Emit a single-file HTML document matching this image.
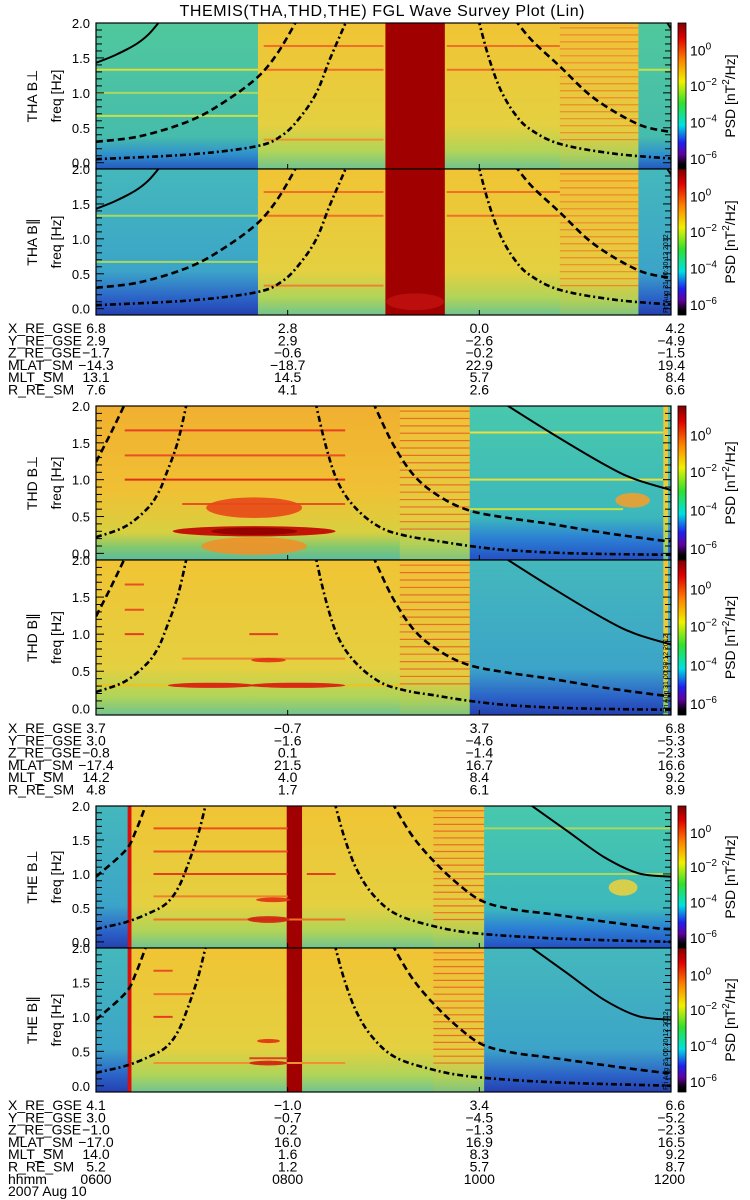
<!DOCTYPE html>
<html><head><meta charset="utf-8">
<style>
html,body{margin:0;padding:0;background:#fff;}
svg{display:block;font-family:"Liberation Sans",sans-serif;}
</style></head>
<body>
<svg id="chart" width="750" height="1200" viewBox="0 0 750 1200" xmlns="http://www.w3.org/2000/svg">
<defs>
<linearGradient id="gG" x1="0" y1="0" x2="0" y2="1"><stop offset="0" stop-color="#50c89c"/><stop offset="0.78" stop-color="#46bcac"/><stop offset="0.9" stop-color="#3090cc"/><stop offset="1" stop-color="#2458c0"/></linearGradient>
<linearGradient id="gB" x1="0" y1="0" x2="0" y2="1"><stop offset="0" stop-color="#44b8bc"/><stop offset="0.7" stop-color="#3ca4c8"/><stop offset="0.88" stop-color="#2c64c8"/><stop offset="1" stop-color="#2440b0"/></linearGradient>
<linearGradient id="gG2" x1="0" y1="0" x2="0" y2="1"><stop offset="0" stop-color="#48c8ac"/><stop offset="0.72" stop-color="#3cb8bc"/><stop offset="0.86" stop-color="#2c80d4"/><stop offset="1" stop-color="#2450c4"/></linearGradient>
<linearGradient id="gY" x1="0" y1="0" x2="0" y2="1"><stop offset="0" stop-color="#f0c434"/><stop offset="0.7" stop-color="#e4d040"/><stop offset="0.88" stop-color="#b0d458"/><stop offset="1" stop-color="#70c490"/></linearGradient>
<linearGradient id="gO" x1="0" y1="0" x2="0" y2="1"><stop offset="0" stop-color="#f0b030"/><stop offset="0.55" stop-color="#f0c034"/><stop offset="0.82" stop-color="#d8d040"/><stop offset="0.92" stop-color="#80c870"/><stop offset="1" stop-color="#5cbca0"/></linearGradient>
<linearGradient id="gS" x1="0" y1="0" x2="0" y2="1"><stop offset="0" stop-color="#f0c038"/><stop offset="0.75" stop-color="#e4cc40"/><stop offset="0.9" stop-color="#b0d058"/><stop offset="1" stop-color="#80c480"/></linearGradient>
<linearGradient id="gCB" x1="0" y1="0" x2="0" y2="1"><stop offset="0" stop-color="#800000"/><stop offset="0.1" stop-color="#e00000"/><stop offset="0.25" stop-color="#ff8000"/><stop offset="0.4" stop-color="#f0f000"/><stop offset="0.55" stop-color="#30e030"/><stop offset="0.7" stop-color="#00e0e0"/><stop offset="0.82" stop-color="#2020f0"/><stop offset="0.9" stop-color="#6000a0"/><stop offset="0.97" stop-color="#000000"/><stop offset="1" stop-color="#000"/></linearGradient>
</defs>
<text x="382" y="16" font-size="16" text-anchor="middle" textLength="405">THEMIS(THA,THD,THE) FGL Wave Survey Plot (Lin)</text>
<g id="root"></g>
</svg>
<script>
// ---- data ----
const hourTicks = [6, 8, 10, 12];
const freqTicks = [0.0, 0.5, 1.0, 1.5, 2.0];
const cbTicks = ['0', '-2', '-4', '-6'];
const cbFracs = [0.19, 0.43, 0.68, 0.93];

const thaPerpRegions = [[6,7.69,'G'],[7.69,9.02,'Y'],[9.02,9.64,'R'],[9.64,10.84,'Y'],[10.84,11.66,'S'],[11.66,12,'G']];
const thaParRegions  = [[6,7.69,'B'],[7.69,9.02,'Y'],[9.02,9.64,'R'],[9.64,10.84,'Y'],[10.84,11.66,'S'],[11.66,12,'B']];
const thdPerpRegions = [[6,9.17,'O'],[9.17,9.9,'S'],[9.9,11.92,'G2'],[11.92,11.97,'Y'],[11.97,12,'G2']];
const thdParRegions  = [[6,9.17,'Y'],[9.17,9.9,'S'],[9.9,11.92,'B'],[11.92,11.97,'Y'],[11.97,12,'B']];
const thePerpRegions = [[6,6.33,'B'],[6.33,6.37,'L'],[6.37,7.99,'Y'],[7.99,8.15,'R'],[8.15,9.52,'Y'],[9.52,10.05,'S'],[10.05,12,'G2']];
const theParRegions  = [[6,6.33,'B'],[6.33,6.37,'L'],[6.37,7.99,'Y'],[7.99,8.15,'R'],[8.15,9.52,'Y'],[9.52,10.05,'S'],[10.05,12,'B']];

const thaPerpLines = [[6,7.69,1.33,'#d8e040'],[6,7.69,0.67,'#c8e048'],[6,7.69,1.0,'#a8d860'],[7.75,9.0,1.67,'#f07028'],[7.75,9.0,1.33,'#f07028'],[9.66,10.84,1.67,'#f07028'],[9.66,10.84,1.33,'#f07028'],[7.75,9.0,0.33,'#f09030'],[11.66,12,1.33,'#c8e048']];
const thaParLines  = [[6,7.69,1.33,'#a8d860'],[6,7.69,0.67,'#a8d860'],[7.75,9.0,1.67,'#f07028'],[7.75,9.0,1.33,'#f07028'],[9.66,10.84,1.67,'#f07028'],[9.66,10.84,1.33,'#f07028'],[7.75,9.0,0.33,'#f08030']];
const thdPerpLines = [[6.3,8.6,1.67,'#e84020'],[6.3,8.6,1.33,'#e85020'],[6.3,8.6,1.0,'#e03018'],[6.9,8.6,0.67,'#e85020'],[9.9,11.92,1.64,'#e8e040'],[9.9,11.92,1.0,'#e8e040'],[9.9,11.5,0.6,'#c8e040']];
const thdParLines  = [[6.3,6.5,1.67,'#e85020'],[6.3,6.5,1.33,'#e85020'],[6.3,6.5,1.0,'#e04020'],[7.6,7.9,1.0,'#e04020'],[6.9,8.6,0.67,'#f08030'],[6,9.2,0.31,'#f0c020']];
const thePerpLines = [[6.6,8.0,1.67,'#e85020'],[6.6,8.0,1.33,'#e85020'],[6.6,8.0,1.0,'#e04020'],[8.2,8.5,1.0,'#e04020'],[6.6,8.0,0.67,'#f08030'],[6.6,8.6,0.33,'#f07028'],[10.05,12,1.67,'#a8d860'],[10.05,12,1.0,'#a8d860']];
const theParLines  = [[6.6,6.8,1.67,'#e85020'],[6.6,7.0,1.33,'#f07028'],[6.6,6.8,1.0,'#e04020'],[7.6,8.0,0.4,'#e04020'],[6.6,8.6,0.33,'#f09030']];

const thaPerpBlobs = [];
const thaParBlobs  = [[9.33,0.1,0.3,0.12,'#c01010']];
const thdPerpBlobs = [[7.65,0.62,0.5,0.14,'#e84818'],[7.65,0.10,0.55,0.12,'#f09028'],[7.65,0.30,0.85,0.07,'#c00000'],[7.65,0.30,0.45,0.05,'#900000'],[11.6,0.72,0.18,0.1,'#f0a030']];
const thdParBlobs  = [[7.2,0.31,0.45,0.035,'#d81810'],[8.1,0.31,0.5,0.035,'#d81810'],[7.8,0.65,0.18,0.03,'#e03010']];
const thePerpBlobs = [[7.8,0.33,0.22,0.05,'#d02010'],[7.85,0.62,0.18,0.035,'#e03010'],[11.5,0.8,0.15,0.12,'#e8d040']];
const theParBlobs  = [[7.8,0.33,0.2,0.035,'#d02010'],[7.8,0.65,0.12,0.03,'#e03010']];

const thaSolid    = [[[6,1.43],[6.2,1.54],[6.41,1.69],[6.55,1.84],[6.68,2.05]],[[11.94,2.05],[12,1.92]]];
const thaDash     = [[[6,0.30],[6.46,0.38],[6.98,0.6],[7.35,0.88],[7.69,1.23],[7.9,1.58],[8.1,2.05]],[[10.37,2.05],[10.55,1.75],[10.84,1.38],[11.2,0.92],[11.66,0.55],[12,0.44]]];
const thaDashDot  = [[[6,0.05],[7.0,0.12],[7.69,0.24],[7.95,0.4],[8.13,0.65],[8.3,1.0],[8.44,1.48],[8.62,2.05]],[[9.99,2.05],[10.1,1.5],[10.22,1.05],[10.37,0.7],[10.53,0.48],[10.84,0.27],[11.4,0.13],[12,0.06]]];
const thdSolid    = [[[10.24,2.05],[10.74,1.64],[11.34,1.18],[11.64,1.0],[12,0.86]]];
const thdDash     = [[[6,1.24],[6.15,1.62],[6.31,2.05]],[[8.89,2.05],[9.1,1.48],[9.33,1.04],[9.6,0.76],[9.9,0.58],[10.3,0.48],[10.74,0.40],[11.3,0.28],[11.9,0.175],[12,0.17]]];
const thdDashDot  = [[[6,0.22],[6.3,0.36],[6.53,0.6],[6.65,0.82],[6.73,1.07],[6.85,1.5],[6.95,2.05]],[[8.29,2.05],[8.4,1.45],[8.53,0.95],[8.72,0.6],[8.97,0.35],[9.23,0.24],[9.53,0.175],[9.9,0.1],[10.34,0.04],[11,0.0],[12,-0.02]]];
const theSolid    = [[[10.5,2.05],[10.9,1.65],[11.3,1.25],[11.66,1.01],[12,0.96]]];
const theDash     = [[[6,0.96],[6.31,1.35],[6.42,1.65],[6.53,2.05]],[[9.09,2.05],[9.3,1.56],[9.53,1.18],[9.78,0.85],[10.03,0.6],[10.35,0.48],[10.74,0.41],[11.3,0.3],[11.86,0.2],[12,0.19]]];
const theDashDot  = [[[6,0.19],[6.31,0.29],[6.55,0.42],[6.73,0.56],[6.86,0.8],[6.97,1.18],[7.07,1.6],[7.15,2.05]],[[8.49,2.05],[8.6,1.5],[8.73,1.04],[8.9,0.68],[9.13,0.41],[9.5,0.24],[9.94,0.13],[10.8,0.05],[12,0.0]]];

const ephemLabels = ['X_RE_GSE','Y_RE_GSE','Z_RE_GSE','MLAT_SM','MLT_SM','R_RE_SM'];
const thaEphem = [['6.8','2.8','0.0','4.2'],['2.9','2.9','\u22122.6','\u22124.9'],['\u22121.7','\u22120.6','\u22120.2','\u22121.5'],['\u221214.3','\u221218.7','22.9','19.4'],['13.1','14.5','5.7','8.4'],['7.6','4.1','2.6','6.6']];
const thdEphem = [['3.7','\u22120.7','3.7','6.8'],['3.0','\u22121.6','\u22124.6','\u22125.3'],['\u22120.8','0.1','\u22121.4','\u22122.3'],['\u221217.4','21.5','16.7','16.6'],['14.2','4.0','8.4','9.2'],['4.8','1.7','6.1','8.9']];
const theEphem = [['4.1','\u22121.0','3.4','6.6'],['3.0','\u22120.7','\u22124.5','\u22125.2'],['\u22121.0','0.2','\u22121.3','\u22122.3'],['\u221217.0','16.0','16.9','16.5'],['14.0','1.6','8.3','9.2'],['5.2','1.2','5.7','8.7']];
const hourLabels = ['0600','0800','1000','1200'];

// ---- layout ----
const X0 = 96, X1 = 671, FMIN = -0.09, FMAX = 2.0;
function xs(t){ return X0 + (t - 6) / 6 * (X1 - X0); }
function ysF(f, top, h){ return top + (FMAX - f) / (FMAX - FMIN) * h; }
const fills = {G:'url(#gG)',B:'url(#gB)',G2:'url(#gG2)',Y:'url(#gY)',O:'url(#gO)',S:'url(#gS)',R:'#a00000',L:'#d81010'};
const NS = 'http://www.w3.org/2000/svg';
const root = document.getElementById('root');
function mk(tag, attrs, parent){
  const e = document.createElementNS(NS, tag);
  for (const k in attrs) e.setAttribute(k, attrs[k]);
  (parent || root).appendChild(e);
  return e;
}
function smoothPath(pts){
  if (pts.length < 3) return pts.map(function(p, k){ return (k ? 'L' : 'M') + p[0].toFixed(1) + ',' + p[1].toFixed(1); }).join('');
  let d = 'M' + pts[0][0].toFixed(1) + ',' + pts[0][1].toFixed(1);
  for (let i = 0; i < pts.length - 1; i++) {
    const p0 = pts[i - 1] || pts[i], p1 = pts[i], p2 = pts[i + 1], p3 = pts[i + 2] || p2;
    const c1x = p1[0] + (p2[0] - p0[0]) / 6, c1y = p1[1] + (p2[1] - p0[1]) / 6;
    const c2x = p2[0] - (p3[0] - p1[0]) / 6, c2y = p2[1] - (p3[1] - p1[1]) / 6;
    d += 'C' + c1x.toFixed(1) + ',' + c1y.toFixed(1) + ' ' + c2x.toFixed(1) + ',' + c2y.toFixed(1) + ' ' + p2[0].toFixed(1) + ',' + p2[1].toFixed(1);
  }
  return d;
}

const panels = [
  {key:'tha-perp', label:'THA B\u22a5', top:23, h:146, regions:thaPerpRegions, lines:thaPerpLines, blobs:thaPerpBlobs, solid:thaSolid, dash:thaDash, dd:thaDashDot, stamp:false},
  {key:'tha-par',  label:'THA B\u2225', top:169, h:146, regions:thaParRegions, lines:thaParLines, blobs:thaParBlobs, solid:thaSolid, dash:thaDash, dd:thaDashDot, stamp:true},
  {key:'thd-perp', label:'THD B\u22a5', top:406, h:154, regions:thdPerpRegions, lines:thdPerpLines, blobs:thdPerpBlobs, solid:thdSolid, dash:thdDash, dd:thdDashDot, stamp:false},
  {key:'thd-par',  label:'THD B\u2225', top:560, h:155, regions:thdParRegions, lines:thdParLines, blobs:thdParBlobs, solid:thdSolid, dash:thdDash, dd:thdDashDot, stamp:true},
  {key:'the-perp', label:'THE B\u22a5', top:806, h:142, regions:thePerpRegions, lines:thePerpLines, blobs:thePerpBlobs, solid:theSolid, dash:theDash, dd:theDashDot, stamp:false},
  {key:'the-par',  label:'THE B\u2225', top:948, h:144, regions:theParRegions, lines:theParLines, blobs:theParBlobs, solid:theSolid, dash:theDash, dd:theDashDot, stamp:true}
];

const defs = document.querySelector('defs');
panels.forEach(function(p, i){
  const g = mk('g', {});
  
  
  const cp = mk('clipPath', {id:'clip' + i}, defs);
  mk('rect', {x:X0, y:p.top, width:X1 - X0, height:p.h}, cp);
  const body = mk('g', {'clip-path':'url(#clip' + i + ')'}, g);
  const y = function(f){ return ysF(f, p.top, p.h); };
  p.regions.forEach(function(r){
    const rc = mk('rect', {x:xs(r[0]), y:p.top, width:xs(r[1]) - xs(r[0]) + 0.5, height:p.h, fill:fills[r[2]]}, body);
    
    
    if (r[2] === 'S') {
      for (let f = 1.93; f > 0.25; f -= 0.1) {
        const sl = mk('line', {x1:xs(r[0]), x2:xs(r[1]), y1:y(f), y2:y(f), stroke:(i >= 2 ? '#e85a20' : '#f07a28'), 'stroke-width':1.2, opacity:0.8}, body);
        
        
      }
    }
  });
  p.lines.forEach(function(l){
    const ln = mk('line', {x1:xs(l[0]), x2:xs(l[1]), y1:y(l[2]), y2:y(l[2]), stroke:l[3], 'stroke-width':2}, body);
    
    
  });
  p.blobs.forEach(function(b){
    const el = mk('ellipse', {cx:xs(b[0]), cy:y(b[1]), rx:xs(b[0] + b[2]) - xs(b[0]), ry:y(b[1] - b[3]) - y(b[1]), fill:b[4], opacity:0.9}, body);
    
    
  });
  function drawCurve(segs, dash, w, name){
    segs.forEach(function(s){
      const pts = s.map(function(pt){ return [xs(pt[0]), y(pt[1])]; });
      const pa = mk('path', {d:smoothPath(pts), fill:'none', stroke:'#000', 'stroke-width':w, 'stroke-dasharray':dash}, body);
      
      
    });
  }
  drawCurve(p.solid, 'none', 2, 'fce-solid-curve');
  drawCurve(p.dash, '7,4', 2.6, 'fce-half-dashed-curve');
  drawCurve(p.dd, '6,3,2,3', 2.6, 'fce-tenth-dashdot-curve');
  for (let k = 0; k <= 20; k++) {
    const f = k / 10, yy = y(f), len = (k % 5 === 0) ? 8 : 6;
    mk('line', {x1:X0, x2:X0 + len, y1:yy, y2:yy, stroke:'#000', 'stroke-width':1}, g);
    mk('line', {x1:X1 - len, x2:X1, y1:yy, y2:yy, stroke:'#000', 'stroke-width':1}, g);
  }
  hourTicks.forEach(function(t){
    mk('line', {x1:xs(t), x2:xs(t), y1:p.top + p.h - 5, y2:p.top + p.h, stroke:'#000'}, g);
  });
  const bd = mk('rect', {x:X0, y:p.top, width:X1 - X0, height:p.h, fill:'none', stroke:'#000', 'stroke-width':1.2}, g);
  
  
  freqTicks.forEach(function(f){
    const tx = mk('text', {x:90, y:y(f) + 5, 'font-size':13, 'text-anchor':'end'}, g);
    tx.textContent = f.toFixed(1);
    
    
  });
  const cy = p.top + p.h / 2;
  const lb = mk('text', {x:0, y:0, 'font-size':14, 'text-anchor':'middle', transform:'translate(37,' + cy + ') rotate(-90)'}, g);
  lb.textContent = p.label;
  
  
  const fl = mk('text', {x:0, y:0, 'font-size':14, 'text-anchor':'middle', transform:'translate(61,' + cy + ') rotate(-90)'}, g);
  fl.textContent = 'freq [Hz]';
  
  
  const cb = mk('rect', {x:678, y:p.top, width:8, height:p.h, fill:'url(#gCB)', stroke:'#000', 'stroke-width':0.8}, g);
  
  
  cbTicks.forEach(function(e, k){
    const ty = p.top + cbFracs[k] * p.h;
    const t = mk('text', {x:690, y:ty + 5, 'font-size':14}, g);
    
    
    const a = mk('tspan', {}, t); a.textContent = '10';
    const b = mk('tspan', {dy:-6, 'font-size':10}, t); b.textContent = e.replace('-', '\u2212');
  });
  const psd = mk('text', {x:0, y:0, 'font-size':14, 'text-anchor':'middle', transform:'translate(735,' + cy + ') rotate(-90)'}, g);
  
  
  const s1 = mk('tspan', {}, psd); s1.textContent = 'PSD [nT';
  const s2 = mk('tspan', {dy:-6, 'font-size':10}, psd); s2.textContent = '2';
  const s3 = mk('tspan', {dy:6}, psd); s3.textContent = '/Hz]';
  if (p.stamp) {
    const st = mk('text', {x:0, y:0, 'font-size':7, transform:'translate(668,' + (p.top + p.h - 2) + ') rotate(-90)'}, g);
    st.textContent = 'Fri Aug 31 00:30:12 2012';
    
    
  }
});

function ephem(rows, top, withTime){
  const g = mk('g', {});
  
  
  const lh = 12.3;
  const allLabels = ephemLabels.slice();
  const allRows = rows.slice();
  if (withTime) { allLabels.push('hhmm'); allRows.push(hourLabels); }
  allLabels.forEach(function(l, r){
    const yy = top + 10 + r * lh;
    const t = mk('text', {x:8, y:yy, 'font-size':14}, g);
    t.textContent = l;
    
    
    allRows[r].forEach(function(v, c){
      const tv = mk('text', {x:(c === 3 ? 685 : xs(hourTicks[c])), y:yy, 'font-size':14, 'text-anchor':(c === 3 ? 'end' : 'middle')}, g);
      tv.textContent = v;
      
      
    });
  });
  if (withTime) {
    const d = mk('text', {x:8, y:top + 10 + 7 * lh, 'font-size':14}, g);
    d.textContent = '2007 Aug 10';
    
    
  }
}
ephem(thaEphem, 323, false);
ephem(thdEphem, 723, false);
ephem(theEphem, 1100, true);
</script>
</body></html>
